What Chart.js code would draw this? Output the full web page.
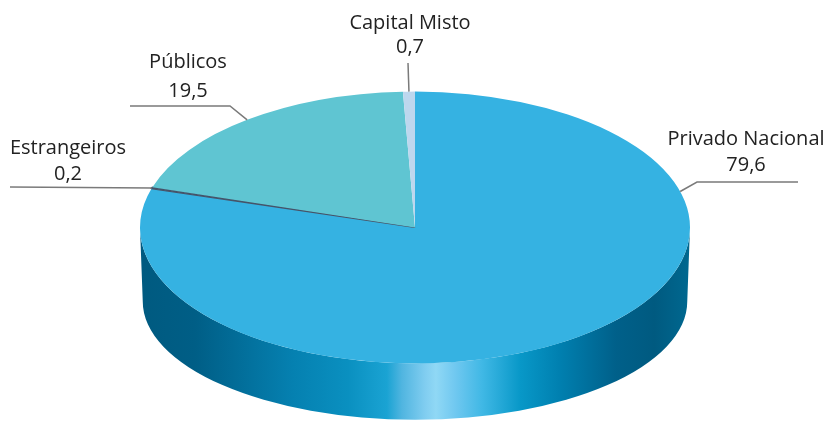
<!DOCTYPE html>
<html>
<head>
<meta charset="utf-8">
<script src="https://cdn.jsdelivr.net/npm/chart.js@4.4.1/dist/chart.umd.min.js"></script>
<style>
  html, body { margin: 0; padding: 0; background: #fff; }
  #wrap { width: 829px; height: 423px; }
</style>
</head>
<body>
<div id="wrap"><canvas id="myChart" width="829" height="423"></canvas></div>
<script>
const categorias = ['Privado Nacional', 'Estrangeiros', 'Públicos', 'Capital Misto'];
const valores = [79.6, 0.2, 19.5, 0.7];
const cores = ['#35b2e2', '#44546a', '#5fc5d2', '#bdd7ee'];

// where each label sits (text centre, baselines, leader points)
const rotulos = [
    { x: 746, y1: 145, y2: 171, line: [[798, 182], [697, 182]], angle: -0.268 },
    { x: 68, y1: 154, y2: 180, line: [[10, 187]] },
    { x: 188, y1: 68, y2: 97, line: [[130, 106], [230, 106]] },
    { x: 410, y1: 29, y2: 53, line: [[408, 63]] }
];

const depth = 74;
const sideStops = [
    [0, '#005a80'], [0.1, '#005e86'], [0.275, '#0580b0'], [0.378, '#0a90c0'],
    [0.449, '#1aa3d3'], [0.476, '#50b5e0'], [0.518, '#80cdf0'], [0.538, '#90d8f5'],
    [0.573, '#70c8f0'], [0.622, '#40b8e5'], [0.691, '#0898c8'], [0.762, '#0080b0'],
    [0.865, '#00608a'], [0.935, '#005a80'], [1, '#006890']
];

function geom(chart) {
    const el = chart.getDatasetMeta(0).data[0];
    const a = chart.chartArea;
    return { cx: el.x, cy: el.y, r: el.outerRadius, rx: (a.right - a.left) / 2, ry: el.outerRadius };
}

const pie3d = {
    id: 'pie3d',
    beforeDatasetsDraw(chart) {
        const ctx = chart.ctx;
        const g = geom(chart);
        const cy2 = g.cy + depth, rx2 = g.rx * 0.99, ry2 = g.ry * 0.87;
        const grad = ctx.createLinearGradient(g.cx - g.rx, 0, g.cx + g.rx, 0);
        sideStops.forEach(s => grad.addColorStop(s[0], s[1]));
        chart.getDatasetMeta(0).data.forEach(el => {
            for (let k = -1; k <= 1; k++) {
                const s = Math.max(el.startAngle, 2 * Math.PI * k);
                const e = Math.min(el.endAngle, Math.PI + 2 * Math.PI * k);
                if (e <= s) continue;
                ctx.beginPath();
                ctx.ellipse(g.cx, g.cy, g.rx, g.ry, 0, s, e, false);
                ctx.ellipse(g.cx, cy2, rx2, ry2, 0, e, s, true);
                ctx.closePath();
                ctx.fillStyle = grad;
                ctx.fill();
            }
        });
        ctx.save();
        ctx.translate(g.cx, g.cy);
        ctx.scale(g.rx / g.r, g.ry / g.r);
        ctx.translate(-g.cx, -g.cy);
    },
    afterDatasetsDraw(chart) {
        const ctx = chart.ctx;
        ctx.restore();
        const g = geom(chart);
        ctx.save();
        ctx.font = '20px "Open Sans"';
        ctx.fillStyle = '#222222';
        ctx.textAlign = 'center';
        ctx.textBaseline = 'alphabetic';
        chart.getDatasetMeta(0).data.forEach((el, i) => {
            const lb = rotulos[i];
            const ang = lb.angle !== undefined ? lb.angle : (el.startAngle + el.endAngle) / 2;
            const ax = g.cx + g.rx * Math.cos(ang);
            const ay = g.cy + g.ry * Math.sin(ang);
            ctx.beginPath();
            ctx.moveTo(lb.line[0][0], lb.line[0][1]);
            lb.line.slice(1).forEach(p => ctx.lineTo(p[0], p[1]));
            ctx.lineTo(ax, ay);
            ctx.strokeStyle = '#7a7a7a';
            ctx.lineWidth = 1.5;
            ctx.stroke();
            ctx.fillText(categorias[i], lb.x, lb.y1);
            ctx.fillText(valores[i].toFixed(1).replace('.', ','), lb.x, lb.y2);
        });
        ctx.restore();
    }
};

const ctx = document.getElementById('myChart').getContext('2d');
const myChart = new Chart(ctx, {
    type: 'pie',
    data: {
        labels: categorias,
        datasets: [{
            data: valores,
            backgroundColor: cores,
            borderColor: cores,
            borderWidth: [0, 1.2, 0, 0],
            clip: false
        }]
    },
    options: {
        responsive: false,
        animation: false,
        events: [],
        layout: {
            padding: { left: 140, right: 139, top: 91, bottom: 59 }
        },
        plugins: {
            legend: { display: false },
            tooltip: { enabled: false }
        }
    },
    plugins: [pie3d]
});
</script>
</body>
</html>
